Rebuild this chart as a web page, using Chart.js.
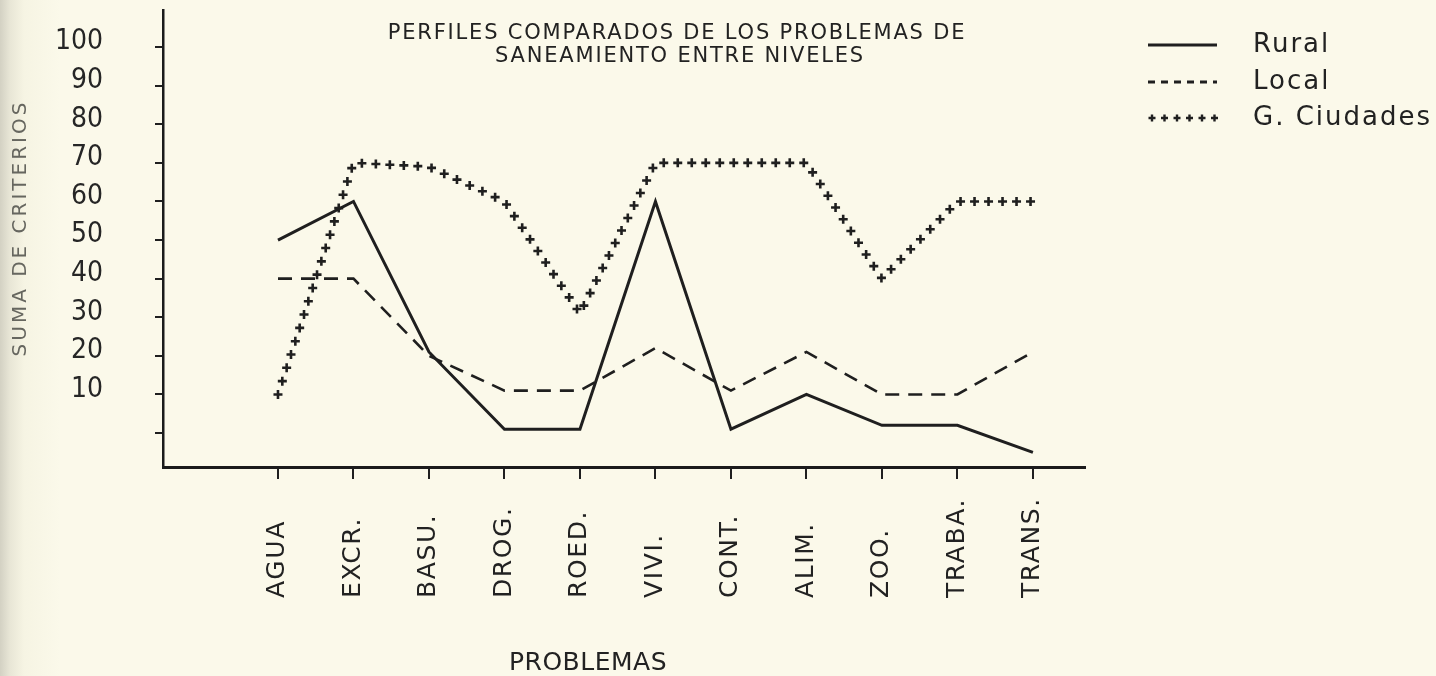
<!DOCTYPE html>
<html lang="es">
<head>
<meta charset="utf-8">
<title>Perfiles comparados de los problemas de saneamiento</title>
<script src="https://cdn.jsdelivr.net/npm/chart.js@4.4.1/dist/chart.umd.min.js"></script>
<style>
  html, body { margin: 0; padding: 0; }
  body {
    width: 1436px;
    height: 676px;
    overflow: hidden;
    background: linear-gradient(to right, #d3d1c3 0px, #e8e6d6 10px, #f6f4e3 24px, #fbf9ea 60px);
  }
  canvas { display: block; }
</style>
</head>
<body>
<canvas id="graficoPerfiles" width="1436" height="676"></canvas>
<script>
// Datos
const categorias = ['AGUA', 'EXCR.', 'BASU.', 'DROG.', 'ROED.', 'VIVI.', 'CONT.', 'ALIM.', 'ZOO.', 'TRABA.', 'TRANS.'];
const rural = [50, 60, 21, 1, 1, 60, 1, 10, 2, 2, -5];
const local = [40, 40, 20, 11, 11, 22, 11, 21, 10, 10, 21];
const grandesCiudades = [10, 70, 69, 60, 31, 70, 70, 70, 40, 60, 60];
const marcasY = [0, 10, 20, 30, 40, 50, 60, 70, 80, 90, 100];

const tinta = '#1f1f1f';
const fuente = "'DejaVu Sans', sans-serif";

const ctx = document.getElementById('graficoPerfiles').getContext('2d');

// dibuja una cruz "+"
function cruz(c, x, y, r) {
    c.beginPath();
    c.moveTo(x - r, y);
    c.lineTo(x + r, y);
    c.moveTo(x, y - r);
    c.lineTo(x, y + r);
    c.stroke();
}

// Plugin: linea de cruces, etiquetas del eje X, titulos y leyenda
const extras = {
    id: 'extras',
    afterDatasetsDraw(chart) {
        const pts = chart.getDatasetMeta(2).data;
        const c = chart.ctx;
        c.save();
        c.strokeStyle = tinta;
        c.lineWidth = 2.6;
        let resto = 0;
        for (let i = 0; i < pts.length - 1; i++) {
            const a = pts[i], b = pts[i + 1];
            const largo = Math.hypot(b.x - a.x, b.y - a.y);
            let d = resto;
            while (d <= largo) {
                const t = d / largo;
                cruz(c, a.x + (b.x - a.x) * t, a.y + (b.y - a.y) * t, 4.5);
                d += 14;
            }
            resto = d - largo;
        }
        c.restore();
    },
    afterDraw(chart) {
        const c = chart.ctx;
        const ejeX = chart.scales.x;
        c.save();
        c.fillStyle = '#222';

        // etiquetas verticales, alineadas por abajo
        c.font = '25px ' + fuente;
        c.letterSpacing = '1.6px';
        c.textAlign = 'left';
        c.textBaseline = 'middle';
        categorias.forEach((cat, i) => {
            c.save();
            c.translate(ejeX.getPixelForValue(i), 598);
            c.rotate(-Math.PI / 2);
            c.fillText(cat, 0, 0);
            c.restore();
        });

        // titulo del eje Y
        c.save();
        c.fillStyle = '#66665f';
        c.font = '20px ' + fuente;
        c.letterSpacing = '3px';
        c.textAlign = 'center';
        c.translate(21, 228);
        c.rotate(-Math.PI / 2);
        c.fillText('SUMA DE CRITERIOS', 0, 0);
        c.restore();

        // titulo del eje X
        c.font = '25px ' + fuente;
        c.letterSpacing = '0.5px';
        c.textAlign = 'center';
        c.fillText('PROBLEMAS', 588, 663);

        // titulo
        c.font = '21px ' + fuente;
        c.letterSpacing = '1.8px';
        c.fillText('PERFILES COMPARADOS DE LOS PROBLEMAS DE', 677, 34);
        c.fillText('SANEAMIENTO ENTRE NIVELES', 680, 57);

        // leyenda
        const filas = [45, 82, 118];
        c.textAlign = 'left';
        c.font = '26px ' + fuente;
        c.letterSpacing = '2px';
        chart.data.datasets.forEach((ds, i) => {
            const y = filas[i];
            c.fillText(ds.label, 1253, y);
            c.strokeStyle = tinta;
            if (i === 2) {
                c.lineWidth = 2.4;
                for (let x = 1152; x <= 1215; x += 12.5) cruz(c, x, y, 3.5);
            } else {
                c.lineWidth = i === 0 ? 3 : 2.8;
                c.setLineDash(i === 0 ? [] : [7, 6]);
                c.beginPath();
                c.moveTo(1148, y);
                c.lineTo(1217, y);
                c.stroke();
                c.setLineDash([]);
            }
        });
        c.restore();
    }
};

const data = {
    datasets: [{
        label: 'Rural',
        data: rural.map((v, i) => ({ x: i, y: v })),
        borderColor: tinta,
        borderWidth: 3,
        pointRadius: 0,
        tension: 0
    }, {
        label: 'Local',
        data: local.map((v, i) => ({ x: i, y: v })),
        borderColor: tinta,
        borderWidth: 2.6,
        borderDash: [14, 9],
        pointRadius: 0,
        tension: 0
    }, {
        label: 'G. Ciudades',
        data: grandesCiudades.map((v, i) => ({ x: i, y: v })),
        borderColor: tinta,
        showLine: false, // se dibuja con cruces en el plugin
        pointRadius: 0
    }]
};

const config = {
    type: 'line',
    data: data,
    plugins: [extras],
    options: {
        responsive: false,
        animation: false,
        layout: { padding: { top: 10, right: 351, left: 0, bottom: 0 } },
        plugins: {
            legend: { display: false },
            title: { display: false },
            tooltip: { enabled: false }
        },
        scales: {
            x: {
                type: 'linear',
                min: -1.523,
                max: 10.69,
                afterBuildTicks: s => { s.ticks = categorias.map((_, i) => ({ value: i })); },
                afterFit: s => { s.height = 209; s.paddingLeft = 0; s.paddingRight = 0; },
                ticks: { display: false },
                grid: { drawOnChartArea: false, drawTicks: true, tickLength: 12, color: tinta, lineWidth: 2 },
                border: { display: true, color: '#1b1b1b', width: 3 }
            },
            y: {
                min: -8.8,
                max: 109.6,
                afterBuildTicks: s => { s.ticks = marcasY.map(v => ({ value: v })); },
                afterFit: s => { s.width = 163; s.paddingTop = 0; s.paddingBottom = 0; },
                ticks: {
                    callback: v => (v === 0 ? '' : v),
                    color: '#262626',
                    padding: 52,
                    labelOffset: -5,
                    font: { family: "'Liberation Sans Narrow', 'DejaVu Sans Condensed', sans-serif", size: 28 }
                },
                grid: { drawOnChartArea: false, drawTicks: true, tickLength: 8, color: tinta, lineWidth: 2 },
                border: { display: true, color: '#1b1b1b', width: 2.5 }
            }
        }
    }
};

new Chart(ctx, config);
</script>
</body>
</html>
